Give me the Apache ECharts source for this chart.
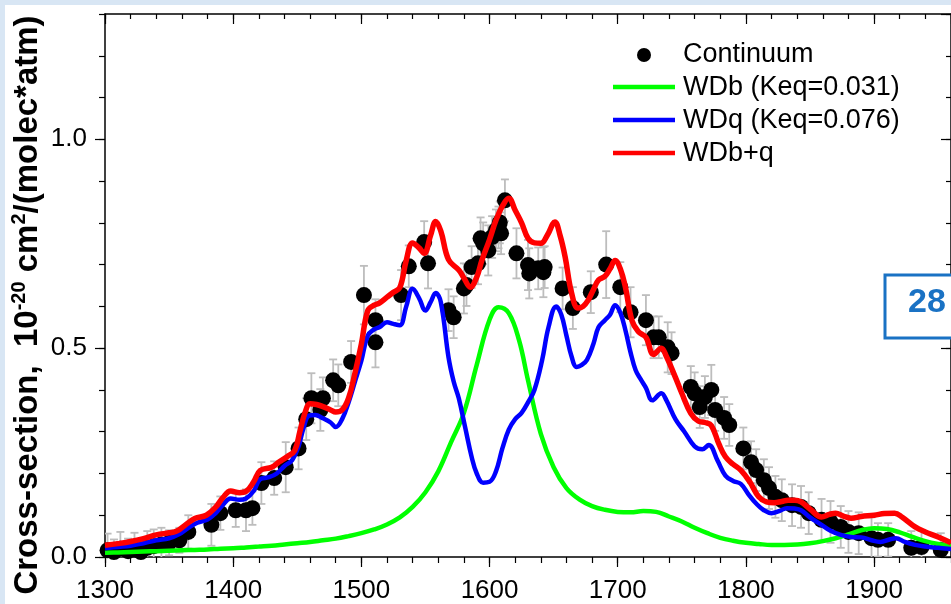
<!DOCTYPE html>
<html>
<head>
<meta charset="utf-8">
<script src="https://cdn.jsdelivr.net/npm/echarts@6/dist/echarts.min.js"></script>
<style>
  html, body { margin: 0; padding: 0; background: #d8e6f4; }
  #panel { position: absolute; left: 5px; top: 5px; width: 946px; height: 599px; background: #ffffff; }
  #chart { position: absolute; left: 0; top: 0; width: 951px; height: 604px; }
</style>
</head>
<body>
<div id="panel"></div>
<div id="chart"></div>
<script>
// Measured continuum cross-section: [wavenumber (cm-1), value, error]
const continuum = [
  [1302, 0.016, 0.04], [1307, 0.012, 0.03], [1312, 0.020, 0.04], [1318, 0.014, 0.03],
  [1323, 0.018, 0.04], [1328, 0.012, 0.03], [1333, 0.022, 0.04], [1338, 0.026, 0.04],
  [1344, 0.030, 0.04], [1350, 0.034, 0.03], [1358, 0.040, 0.03], [1365, 0.060, 0.04],
  [1383, 0.077, 0.05], [1390, 0.105, 0.04], [1402, 0.112, 0.04], [1410, 0.112, 0.05],
  [1415, 0.117, 0.04], [1422, 0.177, 0.05], [1432, 0.189, 0.04], [1441, 0.215, 0.06],
  [1451, 0.260, 0.05], [1457, 0.330, 0.05], [1461, 0.380, 0.06], [1468, 0.352, 0.05],
  [1470, 0.380, 0.05], [1478, 0.423, 0.05], [1482, 0.411, 0.05], [1492, 0.467, 0.05],
  [1502, 0.627, 0.07], [1511, 0.567, 0.05], [1511, 0.514, 0.06], [1531, 0.627, 0.06],
  [1537, 0.696, 0.05], [1549, 0.754, 0.05], [1552, 0.703, 0.06], [1568, 0.591, 0.05],
  [1572, 0.574, 0.05], [1580, 0.643, 0.06], [1582, 0.651, 0.05], [1586, 0.694, 0.05],
  [1591, 0.703, 0.05], [1593, 0.763, 0.05], [1595, 0.751, 0.05], [1599, 0.734, 0.06],
  [1602, 0.766, 0.05], [1605, 0.782, 0.05], [1607, 0.789, 0.05], [1608, 0.801, 0.05],
  [1609, 0.775, 0.05], [1612, 0.854, 0.05], [1621, 0.727, 0.06], [1630, 0.699, 0.06],
  [1631, 0.679, 0.06], [1638, 0.691, 0.05], [1642, 0.682, 0.06], [1643, 0.694, 0.05],
  [1657, 0.643, 0.05], [1665, 0.596, 0.05], [1679, 0.634, 0.05], [1691, 0.700, 0.08],
  [1702, 0.646, 0.06], [1710, 0.586, 0.06], [1722, 0.567, 0.06], [1728, 0.526, 0.05],
  [1732, 0.526, 0.05], [1739, 0.502, 0.06], [1742, 0.488, 0.05], [1757, 0.407, 0.05],
  [1760, 0.392, 0.05], [1764, 0.359, 0.05], [1768, 0.383, 0.05], [1773, 0.400, 0.06],
  [1776, 0.352, 0.05], [1783, 0.333, 0.05], [1787, 0.316, 0.05], [1798, 0.260, 0.05],
  [1804, 0.227, 0.05], [1808, 0.208, 0.05], [1814, 0.184, 0.05], [1818, 0.165, 0.05],
  [1823, 0.144, 0.05], [1828, 0.136, 0.05], [1836, 0.124, 0.05], [1843, 0.120, 0.05],
  [1849, 0.105, 0.05], [1859, 0.089, 0.05], [1866, 0.084, 0.05], [1874, 0.072, 0.05],
  [1880, 0.060, 0.05], [1888, 0.057, 0.05], [1898, 0.045, 0.05], [1903, 0.041, 0.04],
  [1911, 0.041, 0.04], [1929, 0.022, 0.04], [1937, 0.024, 0.04], [1952, 0.017, 0.04]
];

// WDb model band (Keq = 0.031)
const wdb = [
  [1300, 0.010], [1310, 0.011], [1320, 0.012], [1330, 0.013], [1340, 0.014], [1350, 0.015],
  [1360, 0.016], [1370, 0.017], [1380, 0.018], [1390, 0.020], [1400, 0.021], [1410, 0.023],
  [1420, 0.025], [1430, 0.027], [1440, 0.030], [1450, 0.033], [1460, 0.036], [1470, 0.040],
  [1480, 0.044], [1490, 0.050], [1500, 0.057], [1510, 0.066], [1520, 0.078], [1530, 0.095],
  [1540, 0.120], [1550, 0.155], [1560, 0.205], [1570, 0.275], [1580, 0.345], [1590, 0.460],
  [1600, 0.568], [1607, 0.598], [1615, 0.584], [1623, 0.519], [1630, 0.423], [1640, 0.295],
  [1650, 0.215], [1660, 0.165], [1670, 0.138], [1680, 0.122], [1690, 0.113], [1700, 0.108],
  [1710, 0.107], [1720, 0.110], [1730, 0.108], [1740, 0.097], [1750, 0.085], [1760, 0.070],
  [1770, 0.057], [1780, 0.046], [1790, 0.039], [1800, 0.034], [1810, 0.031], [1820, 0.029],
  [1830, 0.029], [1840, 0.030], [1850, 0.033], [1860, 0.038], [1870, 0.045], [1880, 0.054],
  [1890, 0.064], [1900, 0.069], [1910, 0.067], [1920, 0.059], [1930, 0.048], [1940, 0.038],
  [1950, 0.031], [1960, 0.026]
];

// WDq model band (Keq = 0.076)
const wdq = [
  [1300, 0.021], [1310, 0.024], [1320, 0.027], [1330, 0.033], [1340, 0.040], [1350, 0.045],
  [1358, 0.055], [1365, 0.070], [1372, 0.082], [1380, 0.090], [1386, 0.104], [1392, 0.125],
  [1398, 0.140], [1405, 0.137], [1410, 0.140], [1416, 0.158], [1421, 0.186], [1428, 0.191],
  [1434, 0.200], [1440, 0.218], [1446, 0.232], [1451, 0.265], [1455, 0.310], [1459, 0.338],
  [1464, 0.340], [1470, 0.332], [1476, 0.322], [1480, 0.311], [1485, 0.330], [1490, 0.370],
  [1495, 0.420], [1500, 0.470], [1505, 0.530], [1510, 0.545], [1514, 0.550], [1520, 0.562],
  [1525, 0.558], [1530, 0.555], [1535, 0.600], [1540, 0.642], [1545, 0.620], [1550, 0.590],
  [1554, 0.610], [1558, 0.632], [1562, 0.610], [1568, 0.478], [1572, 0.420], [1576, 0.380],
  [1581, 0.310], [1586, 0.240], [1590, 0.200], [1595, 0.178], [1600, 0.180], [1605, 0.205],
  [1610, 0.260], [1615, 0.305], [1620, 0.330], [1625, 0.345], [1630, 0.370], [1635, 0.400],
  [1641, 0.471], [1646, 0.550], [1652, 0.600], [1656, 0.580], [1660, 0.530], [1664, 0.480],
  [1668, 0.455], [1672, 0.460], [1676, 0.472], [1681, 0.510], [1685, 0.550], [1690, 0.567],
  [1694, 0.580], [1698, 0.603], [1702, 0.585], [1706, 0.543], [1710, 0.490], [1714, 0.447],
  [1718, 0.425], [1722, 0.405], [1727, 0.375], [1734, 0.392], [1738, 0.375], [1745, 0.330],
  [1752, 0.300], [1760, 0.265], [1766, 0.258], [1771, 0.268], [1778, 0.230], [1784, 0.195],
  [1790, 0.182], [1796, 0.175], [1802, 0.150], [1808, 0.128], [1814, 0.112], [1820, 0.105],
  [1826, 0.110], [1832, 0.117], [1838, 0.116], [1843, 0.112], [1850, 0.095], [1859, 0.077],
  [1866, 0.063], [1874, 0.053], [1882, 0.048], [1890, 0.047], [1898, 0.040], [1905, 0.036],
  [1912, 0.042], [1917, 0.045], [1924, 0.036], [1932, 0.029], [1940, 0.025], [1950, 0.022],
  [1960, 0.019]
];

// Combined WDb+q model
const wdbq = [
  [1300, 0.028], [1310, 0.032], [1320, 0.037], [1330, 0.044], [1340, 0.053], [1350, 0.058],
  [1356, 0.062], [1362, 0.075], [1370, 0.092], [1379, 0.100], [1386, 0.118], [1392, 0.142],
  [1398, 0.158], [1405, 0.154], [1410, 0.157], [1416, 0.180], [1421, 0.207], [1430, 0.215],
  [1436, 0.228], [1442, 0.240], [1448, 0.255], [1452, 0.300], [1456, 0.345], [1460, 0.367],
  [1465, 0.365], [1470, 0.360], [1476, 0.352], [1480, 0.347], [1485, 0.352], [1490, 0.380],
  [1495, 0.440], [1500, 0.510], [1505, 0.590], [1510, 0.603], [1514, 0.608], [1520, 0.622],
  [1525, 0.634], [1530, 0.645], [1535, 0.710], [1540, 0.752], [1545, 0.740], [1549, 0.727],
  [1554, 0.770], [1558, 0.803], [1562, 0.780], [1568, 0.712], [1576, 0.687], [1580, 0.668],
  [1585, 0.646], [1590, 0.670], [1594, 0.710], [1600, 0.760], [1605, 0.806], [1610, 0.840],
  [1615, 0.859], [1620, 0.830], [1625, 0.800], [1630, 0.763], [1635, 0.752], [1640, 0.751],
  [1645, 0.770], [1651, 0.802], [1655, 0.770], [1659, 0.718], [1664, 0.632], [1669, 0.596],
  [1673, 0.600], [1677, 0.615], [1681, 0.640], [1685, 0.663], [1690, 0.672], [1694, 0.690],
  [1698, 0.710], [1702, 0.690], [1706, 0.646], [1711, 0.567], [1716, 0.540], [1722, 0.526],
  [1728, 0.485], [1734, 0.500], [1738, 0.480], [1745, 0.430], [1750, 0.392], [1757, 0.344],
  [1763, 0.325], [1768, 0.322], [1773, 0.315], [1779, 0.270], [1784, 0.240], [1790, 0.222],
  [1796, 0.208], [1803, 0.180], [1810, 0.144], [1816, 0.132], [1822, 0.130], [1828, 0.133],
  [1833, 0.136], [1838, 0.136], [1843, 0.132], [1850, 0.115], [1859, 0.096], [1865, 0.102],
  [1870, 0.105], [1876, 0.098], [1882, 0.093], [1890, 0.097], [1900, 0.100], [1908, 0.104],
  [1916, 0.105], [1922, 0.095], [1932, 0.072], [1940, 0.060], [1950, 0.048], [1960, 0.034]
];

const seriesNames = ['Continuum', 'WDb (Keq=0.031)', 'WDq (Keq=0.076)', 'WDb+q'];
const xRange = [1300, 1960];
const yRange = [0, 1.3];

const FONT = 'Liberation Sans, Arial, sans-serif';
const chart = echarts.init(document.getElementById('chart'), null, { renderer: 'canvas' });

function xAxisDef(pos, interval, tickLen, inside, showLine, showLabel) {
  return {
    type: 'value', position: pos, min: xRange[0], max: xRange[1], interval: interval,
    axisLine: { show: showLine, onZero: false, lineStyle: { color: '#000', width: 1.5 } },
    axisTick: { show: true, inside: inside, length: tickLen, lineStyle: { color: '#000', width: 1.2 } },
    axisLabel: { show: showLabel, fontFamily: FONT, fontSize: 26, color: '#000', margin: 21,
      showMaxLabel: false, formatter: v => String(Math.round(v)) },
    splitLine: { show: false }
  };
}
function yAxisDef(pos, interval, tickLen, inside, showLine, showLabel) {
  return {
    type: 'value', position: pos, min: yRange[0], max: yRange[1], interval: interval,
    axisLine: { show: showLine, onZero: false, lineStyle: { color: '#000', width: 1.5 } },
    axisTick: { show: true, inside: inside, length: tickLen, lineStyle: { color: '#000', width: 1.2 } },
    axisLabel: { show: showLabel, fontFamily: FONT, fontSize: 26, color: '#000', margin: 18,
      showMaxLabel: false, formatter: v => v.toFixed(1) },
    splitLine: { show: false }
  };
}

const legendX = 613, legendTextX = 683;
const legendRows = [55, 88, 121, 154];
const legendColors = ['#000000', '#00ff00', '#0000ff', '#ff0000'];

const graphics = [];
// legend entries
graphics.push({ type: 'circle', shape: { cx: 644, cy: legendRows[0], r: 7 }, style: { fill: '#000' }, z: 100 });
for (let i = 1; i < 4; i++) {
  graphics.push({ type: 'line', shape: { x1: legendX, y1: legendRows[i] - 1, x2: legendX + 62, y2: legendRows[i] - 1 },
    style: { stroke: legendColors[i], lineWidth: 4.5 }, z: 100 });
}
for (let i = 0; i < 4; i++) {
  graphics.push({ type: 'text', x: legendTextX, y: legendRows[i],
    style: { text: seriesNames[i], font: '27px ' + FONT, fill: '#000', textVerticalAlign: 'middle', verticalAlign: 'middle' }, z: 100 });
}
// boxed panel tag
graphics.push({ type: 'rect', shape: { x: 885, y: 275, width: 100, height: 63 },
  style: { fill: '#fff', stroke: '#1a72c4', lineWidth: 3 }, z: 100 });
graphics.push({ type: 'text', x: 908, y: 303,
  style: { text: '28 K', font: 'bold 34px ' + FONT, fill: '#1a72c4', verticalAlign: 'middle', textVerticalAlign: 'middle' }, z: 101 });
// y-axis title
graphics.push({ type: 'text', x: 28, y: 305, rotation: Math.PI / 2,
  style: {
    text: '{m|Cross-section,  10}{s|-20}{m| cm}{s|2}{m|/(molec*atm)}',
    align: 'center', verticalAlign: 'middle', textAlign: 'center', textVerticalAlign: 'middle',
    rich: {
      m: { fontFamily: FONT, fontWeight: 'bold', fontSize: 33, fill: '#000', lineHeight: 37, verticalAlign: 'middle' },
      s: { fontFamily: FONT, fontWeight: 'bold', fontSize: 20, fill: '#000', verticalAlign: 'top' }
    }
  }, z: 100 });

const option = {
  backgroundColor: 'transparent',
  animation: false,
  grid: { left: 105, top: 14, right: -2, bottom: 47, containLabel: false },
  xAxis: [
    xAxisDef('bottom', 100, 10, false, true, true),
    xAxisDef('bottom', 20, 6, false, false, false),
    xAxisDef('top', 100, 10, true, true, false),
    xAxisDef('top', 20, 5, true, false, false)
  ],
  yAxis: [
    yAxisDef('left', 0.5, 10, false, true, true),
    yAxisDef('left', 0.1, 6, false, false, false),
    yAxisDef('right', 0.5, 10, true, true, false),
    yAxisDef('right', 0.1, 5, true, false, false)
  ],
  series: [
    {
      type: 'custom', name: 'error', z: 1, clip: true,
      data: continuum,
      encode: { x: 0, y: 1 },
      renderItem: function (params, api) {
        const x = api.value(0), y = api.value(1), e = api.value(2);
        const top = api.coord([x, y + e]);
        const bot = api.coord([x, y - e]);
        const hw = 4;
        const st = { stroke: '#bdbdbd', lineWidth: 1.8 };
        return {
          type: 'group',
          children: [
            { type: 'line', shape: { x1: top[0], y1: top[1], x2: bot[0], y2: bot[1] }, style: st },
            { type: 'line', shape: { x1: top[0] - hw, y1: top[1], x2: top[0] + hw, y2: top[1] }, style: st },
            { type: 'line', shape: { x1: bot[0] - hw, y1: bot[1], x2: bot[0] + hw, y2: bot[1] }, style: st }
          ]
        };
      }
    },
    {
      type: 'scatter', name: seriesNames[0], z: 2, data: continuum, symbol: 'circle', symbolSize: 16,
      encode: { x: 0, y: 1 },
      itemStyle: { color: '#000', opacity: 1 }
    },
    {
      type: 'line', name: seriesNames[1], z: 3, data: wdb, showSymbol: false, smooth: 0.4,
      lineStyle: { color: '#00ff00', width: 4.5 }
    },
    {
      type: 'line', name: seriesNames[2], z: 4, data: wdq, showSymbol: false, smooth: 0.4,
      lineStyle: { color: '#0000ff', width: 4.5 }
    },
    {
      type: 'line', name: seriesNames[3], z: 5, data: wdbq, showSymbol: false, smooth: 0.4,
      lineStyle: { color: '#ff0000', width: 5.5 }
    }
  ],
  graphic: graphics
};
chart.setOption(option);
</script>
</body>
</html>
